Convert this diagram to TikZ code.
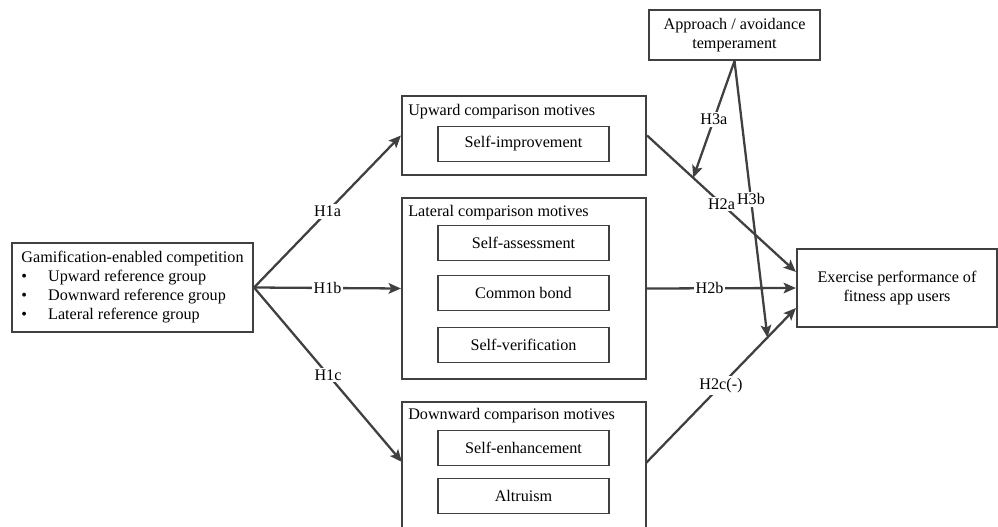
\documentclass[tikz,border=0pt]{standalone}
\usepackage{fontspec}
\setmainfont{Liberation Serif}
\usepackage{tikz}
\usetikzlibrary{positioning, arrows.meta, calc}
\definecolor{linegray}{HTML}{404040}

\begin{document}
\begin{tikzpicture}[x=0.02cm, y=-0.02cm,
    font=\fontsize{9.2}{10.8}\selectfont,
    outerbox/.style={draw=linegray, line width=1.2pt, inner sep=0pt},
    innerbox/.style={draw=linegray, line width=0.9pt, minimum width=171*0.02cm,
                     minimum height=35*0.02cm, inner sep=0pt},
    title/.style={anchor=west, inner sep=0pt},
    link/.style={draw=linegray, line width=1.3pt,
                 -{Stealth[length=7pt, width=6pt, inset=1.5pt]}},
    hyp/.style={fill=white, inner sep=1pt, midway}]
  \useasboundingbox (0,0) rectangle (998,527);

  % source
  \node[outerbox, minimum width=241*0.02cm, minimum height=89*0.02cm, align=left]
    (gam) at (132.5,287.5) {Gamification-enabled competition\\
      \textbullet\hspace{12pt}Upward reference group\\
      \textbullet\hspace{12pt}Downward reference group\\
      \textbullet\hspace{12pt}Lateral reference group};

  % comparison motives
  \node[outerbox, minimum width=244*0.02cm, minimum height=79*0.02cm] (up) at (524,135.5) {};
  \node[title] at ($(up.north west)+(7,17)$) {Upward comparison motives};
  \node[innerbox] (impr) at (523.5,144) {Self-improvement};

  \node[outerbox, minimum width=244*0.02cm, minimum height=181*0.02cm] (lat) at (524,288.5) {};
  \node[title] at ($(lat.north west)+(7,16)$) {Lateral comparison motives};
  \node[innerbox] (assess) at (523.5,243) {Self-assessment};
  \node[innerbox] (bond) at (523.5,293) {Common bond};
  \node[innerbox] (verif) at (523.5,345) {Self-verification};

  \node[outerbox, minimum width=244*0.02cm, minimum height=140*0.02cm] (down) at (524,472) {};
  \node[title] at ($(down.north west)+(7,15)$) {Downward comparison motives};
  \node[innerbox] (enh) at (523.5,448) {Self-enhancement};
  \node[innerbox] (altr) at (523.5,496) {Altruism};

  % outcome and moderator
  \node[outerbox, minimum width=200*0.02cm, minimum height=78*0.02cm, align=center]
    (perf) at (897,288) {Exercise performance of\\fitness app users};
  \node[outerbox, minimum width=171*0.02cm, minimum height=50*0.02cm, align=center]
    (temp) at (734.5,35) {Approach / avoidance\\temperament};

  \coordinate (h1cend) at (402,462);
  \coordinate (h2aend) at ($(perf.west)+(0,-16)$);
  \coordinate (h2cstart) at (646,463);
  \coordinate (h2cend) at ($(perf.west)+(0,20)$);

  \draw[link] (gam.east) -- node[hyp] {H1a} (up.west);
  \draw[link] (gam.east) -- node[hyp] {H1b} (lat.west);
  \draw[link] (gam.east) -- node[hyp] {H1c} (h1cend);

  \draw[link] (up.east) -- node[hyp] {H2a} (h2aend);
  \draw[link] (lat.east) -- node[hyp, pos=0.42] {H2b} (perf.west);
  \draw[link] (h2cstart) -- node[hyp] {H2c(-)} (h2cend);

  \draw[link] (temp.south) -- node[hyp] {H3a} ($(up.east)!0.31!(h2aend)$);
  \draw[link] (temp.south) -- node[hyp] {H3b} ($(h2cstart)!0.81!(h2cend)$);
\end{tikzpicture}
\end{document}
